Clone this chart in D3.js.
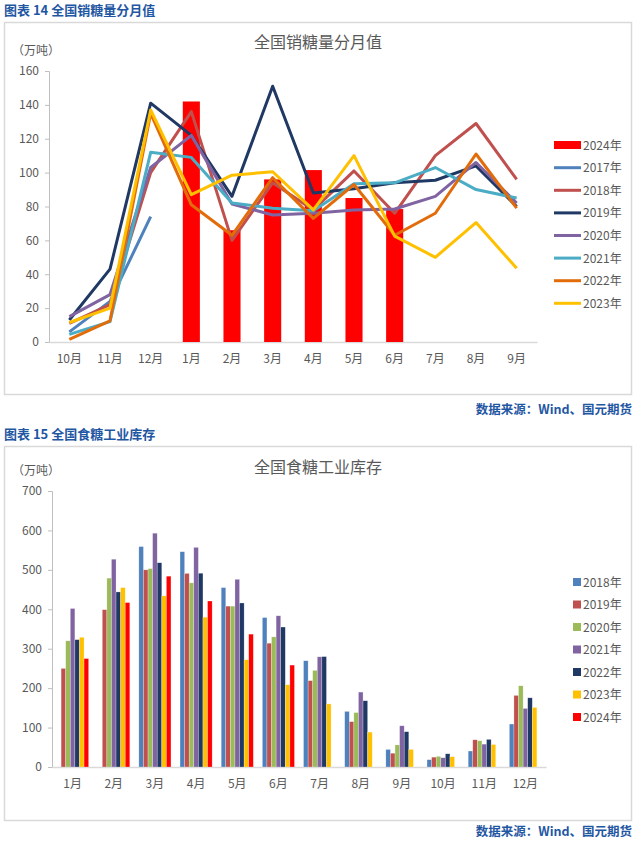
<!DOCTYPE html>
<html>
<head>
<meta charset="utf-8">
<script src="https://cdn.jsdelivr.net/npm/d3@7"></script>
<style>
  body { margin: 0; background: #fff; }
  svg text { font-family: "Noto Sans CJK SC", "Noto Sans", sans-serif; }
</style>
</head>
<body>
<svg id="page" width="636" height="841"></svg>
<script>
// chart 14: monthly sugar sales (万吨)
var salesMonths = ["10月", "11月", "12月", "1月", "2月", "3月", "4月", "5月", "6月", "7月", "8月", "9月"];
var sales2024 = [null, null, null, 142, 66, 96, 101.5, 85, 78.5, null, null, null];
var sales2017 = [6, 24, 74, null, null, null, null, null, null, null, null, null];
var sales2018 = [11, 22, 100, 136, 60, 94, 78, 101, 76, 110, 129, 96];
var sales2019 = [13, 43, 141, 122, 86, 151, 88, 90.5, 94, 95.5, 104, 80];
var sales2020 = [15, 28, 103, 122, 81.5, 75, 76, 78, 78.5, 86, 106, 82];
var sales2021 = [4.5, 12, 112, 109, 82, 79, 77.5, 93.5, 94, 103, 90, 85];
var sales2022 = [1.6, 12.5, 135, 81, 63, 97, 73, 93, 63, 76, 111, 79];
var sales2023 = [11.5, 20, 137, 87, 98.5, 100.5, 78, 110, 62.5, 50, 70.5, 43.5];
var salesTicks = [0, 20, 40, 60, 80, 100, 120, 140, 160];

// chart 15: industrial sugar stock (万吨)
var stockMonths = ["1月", "2月", "3月", "4月", "5月", "6月", "7月", "8月", "9月", "10月", "11月", "12月"];
var stockYears = ["2018年", "2019年", "2020年", "2021年", "2022年", "2023年", "2024年"];
var stock2018 = [null, null, 559, 546, 455, 379, 269.5, 141, 44.5, 18.5, 40.5, 109];
var stock2019 = [250, 399, 500, 491, 408, 314, 219, 115, 35, 25, 69, 181.5];
var stock2020 = [320, 479, 503, 467, 408, 330, 245, 138, 56, 27, 66.5, 206];
var stock2021 = [402, 527, 593, 557, 476, 383.5, 279.5, 190, 104.5, 23.5, 58, 148.5];
var stock2022 = [323, 444, 518, 491.5, 416, 355, 280, 168, 89.5, 33.5, 70, 175.5];
var stock2023 = [329, 455, 434, 380, 272, 208.5, 160, 88.5, 44.5, 26, 57, 151];
var stock2024 = [275, 417, 484, 421, 337, 258.5, null, null, null, null, null, null];
var stockTicks = [0, 100, 200, 300, 400, 500, 600, 700];

var svg = d3.select("#page");
var blue = "#1F57A3";
var grey = "#595959";

function frame(y0, y1, head, title, titleY, unitY, srcY) {
  svg.append("text").attr("x", 4).attr("y", y0 - 7).attr("fill", blue)
     .attr("font-size", 13).attr("font-weight", "bold").text(head);
  svg.append("rect").attr("x", 4.5).attr("y", y0 + 0.5).attr("width", 627).attr("height", y1 - y0)
     .attr("fill", "#fff").attr("stroke", "#D9D9D9").attr("stroke-width", 1.5);
  svg.append("text").attr("x", 318).attr("y", titleY).attr("text-anchor", "middle")
     .attr("fill", grey).attr("font-size", 16).text(title);
  svg.append("text").attr("x", 12).attr("y", unitY).attr("fill", grey)
     .attr("font-size", 12).text("（万吨）");
  svg.append("text").attr("x", 632).attr("y", srcY).attr("text-anchor", "end").attr("fill", blue)
     .attr("font-size", 12.5).attr("font-weight", "bold").text("数据来源：Wind、国元期货");
}

frame(22, 394, "图表 14  全国销糖量分月值", "全国销糖量分月值", 48, 55, 414);
frame(446, 820, "图表 15  全国食糖工业库存", "全国食糖工业库存", 473, 475, 836);

function axes(x, y, ticks) {
  var g = svg.append("g");
  g.append("g").attr("transform", "translate(" + x.range()[0] + ",0)")
   .call(d3.axisLeft(y).tickValues(ticks).tickSize(4).tickPadding(6))
   .call(function(a) {
     a.select(".domain").attr("stroke", "#BFBFBF");
     a.selectAll("line").attr("stroke", "#BFBFBF");
     a.selectAll("text").attr("fill", grey).attr("font-size", 12).attr("font-family", "Liberation Sans, Arial");
   });
  g.append("g").attr("transform", "translate(0," + y.range()[0] + ")")
   .call(d3.axisBottom(x).tickSize(0).tickPadding(12))
   .call(function(a) {
     a.select(".domain").attr("stroke", "#D9D9D9").attr("stroke-width", 1.5);
     a.selectAll("text").attr("fill", grey).attr("font-size", 12);
   });
}

// ---- chart 14
var x1 = d3.scaleBand().domain(salesMonths).range([49, 537]);
var y1 = d3.scaleLinear().domain([0, 160]).range([342, 71]);
axes(x1, y1, salesTicks);

var barW = x1.bandwidth() * 0.42;
svg.append("g").selectAll("rect")
   .data(salesMonths.map(function(m, i) { return { m: m, v: sales2024[i] }; }).filter(function(d) { return d.v != null; }))
   .enter().append("rect")
   .attr("x", function(d) { return x1(d.m) + (x1.bandwidth() - barW) / 2; })
   .attr("y", function(d) { return y1(d.v); })
   .attr("width", barW)
   .attr("height", function(d) { return y1(0) - y1(d.v); })
   .attr("fill", "#FF0000");

var lineSeries = [
  { name: "2017年", color: "#4F81BD", vals: sales2017 },
  { name: "2018年", color: "#C0504D", vals: sales2018 },
  { name: "2019年", color: "#1F3864", vals: sales2019 },
  { name: "2020年", color: "#8064A2", vals: sales2020 },
  { name: "2021年", color: "#4BACC6", vals: sales2021 },
  { name: "2022年", color: "#E36C0A", vals: sales2022 },
  { name: "2023年", color: "#FFC000", vals: sales2023 }
];

var line = d3.line()
  .defined(function(d) { return d != null; })
  .x(function(d, i) { return x1(salesMonths[i]) + x1.bandwidth() / 2; })
  .y(function(d) { return y1(d); });

svg.append("g").selectAll("path").data(lineSeries).enter().append("path")
   .attr("d", function(s) { return line(s.vals); })
   .attr("fill", "none")
   .attr("stroke", function(s) { return s.color; })
   .attr("stroke-width", 3)
   .attr("stroke-linejoin", "round");

// legend 14
var leg1 = svg.append("g");
leg1.append("rect").attr("x", 554).attr("y", 141).attr("width", 27).attr("height", 8).attr("fill", "#FF0000");
leg1.append("text").attr("x", 583).attr("y", 149.5).attr("fill", grey).attr("font-size", 12).text("2024年");
lineSeries.forEach(function(s, i) {
  var yy = 167.7 + i * 22.6;
  leg1.append("line").attr("x1", 554).attr("x2", 581).attr("y1", yy).attr("y2", yy)
      .attr("stroke", s.color).attr("stroke-width", 3);
  leg1.append("text").attr("x", 583).attr("y", yy + 4.5).attr("fill", grey).attr("font-size", 12).text(s.name);
});

// ---- chart 15
var x2 = d3.scaleBand().domain(stockMonths).range([52, 546]);
var y2 = d3.scaleLinear().domain([0, 700]).range([767, 491]);
axes(x2, y2, stockTicks);

var stockColors = ["#4F81BD", "#C0504D", "#9BBB59", "#8064A2", "#1F3864", "#FFC000", "#FF0000"];
var stockSeries = [stock2018, stock2019, stock2020, stock2021, stock2022, stock2023, stock2024];
var inner = d3.scaleBand().domain(stockYears).range([0, x2.bandwidth() * 0.78])
  .paddingInner(0);
var offset = (x2.bandwidth() - inner.range()[1]) / 2;

var cells = [];
stockSeries.forEach(function(vals, si) {
  vals.forEach(function(v, mi) {
    if (v != null) cells.push({ year: stockYears[si], month: stockMonths[mi], v: v, c: stockColors[si] });
  });
});

svg.append("g").selectAll("rect").data(cells).enter().append("rect")
   .attr("x", function(d) { return x2(d.month) + offset + inner(d.year); })
   .attr("y", function(d) { return y2(d.v); })
   .attr("width", inner.bandwidth())
   .attr("height", function(d) { return y2(0) - y2(d.v); })
   .attr("fill", function(d) { return d.c; })
   .attr("stroke", "rgba(255,255,255,0.5)")
   .attr("stroke-width", 0.5);

// legend 15
var leg2 = svg.append("g");
stockYears.forEach(function(name, i) {
  var yy = 582 + i * 22.5;
  leg2.append("rect").attr("x", 573).attr("y", yy - 4).attr("width", 8).attr("height", 8).attr("fill", stockColors[i]);
  leg2.append("text").attr("x", 583).attr("y", yy + 4.5).attr("fill", grey).attr("font-size", 12).text(name);
});
</script>
</body>
</html>
